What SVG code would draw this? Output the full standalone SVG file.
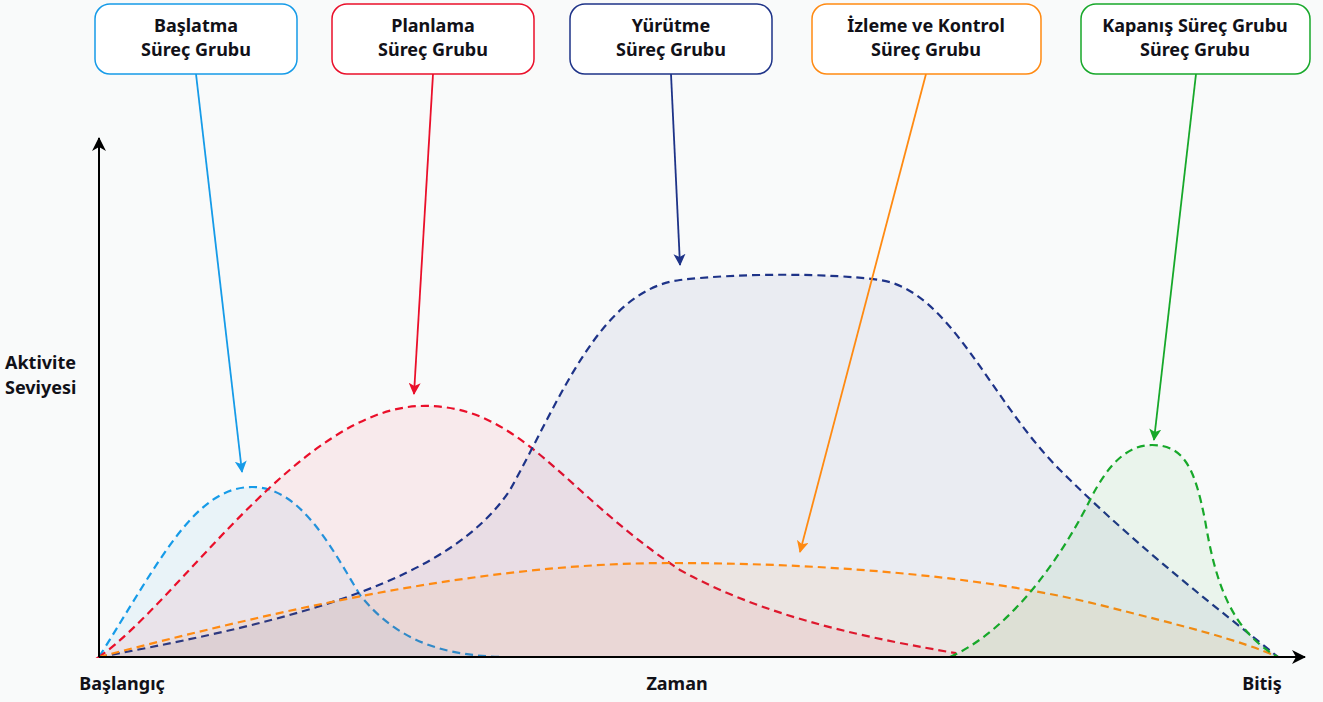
<svg xmlns="http://www.w3.org/2000/svg" width="1323" height="702" viewBox="0 0 1323 702">
<style>
text{font-family:"Noto Sans","Open Sans","Liberation Sans",sans-serif;font-weight:700;font-size:18px;fill:#111118;text-anchor:middle}
.box{fill:#ffffff;stroke-width:1.5}
.curve{fill-opacity:0.065;stroke-width:2.2;stroke-dasharray:8 5}
.lead{fill:none;stroke-width:1.8}
.axis{stroke:#000;stroke-width:2;fill:none}
</style>
<defs>
<marker id="mB" viewBox="0 0 12 12" refX="11" refY="6" markerWidth="12" markerHeight="12" markerUnits="userSpaceOnUse" orient="auto"><path d="M0,0 L12,6 L0,12 L3,6 Z" fill="#169be8"/></marker>
<marker id="mR" viewBox="0 0 12 12" refX="11" refY="6" markerWidth="12" markerHeight="12" markerUnits="userSpaceOnUse" orient="auto"><path d="M0,0 L12,6 L0,12 L3,6 Z" fill="#ea0f2a"/></marker>
<marker id="mN" viewBox="0 0 12 12" refX="11" refY="6" markerWidth="12" markerHeight="12" markerUnits="userSpaceOnUse" orient="auto"><path d="M0,0 L12,6 L0,12 L3,6 Z" fill="#1e3388"/></marker>
<marker id="mO" viewBox="0 0 12 12" refX="11" refY="6" markerWidth="12" markerHeight="12" markerUnits="userSpaceOnUse" orient="auto"><path d="M0,0 L12,6 L0,12 L3,6 Z" fill="#ff8a12"/></marker>
<marker id="mG" viewBox="0 0 12 12" refX="11" refY="6" markerWidth="12" markerHeight="12" markerUnits="userSpaceOnUse" orient="auto"><path d="M0,0 L12,6 L0,12 L3,6 Z" fill="#17a82a"/></marker>
<marker id="mK" viewBox="0 0 14 14" refX="13" refY="7" markerWidth="14" markerHeight="14" markerUnits="userSpaceOnUse" orient="auto"><path d="M0,0 L14,7 L0,14 L4,7 Z" fill="#000"/></marker>
</defs>
<rect x="0" y="0" width="1323" height="702" fill="#f9fafa"/>

<g id="curves">
<path id="c-blue" class="curve" fill="#169be8" stroke="#169be8" d="M99,657 C160,560 195,487 252,487 C300,487 330,545 360,595 C400,645 450,655 500,657 Z"/>
<path id="c-red" class="curve" fill="#ea0f2a" stroke="#ea0f2a" d="M99,657 C180,600 300,410 420,406 C520,403 560,490 680,570 C770,620 880,640 955,653 L955,657 Z"/>
<path id="c-navy" class="curve" fill="#1e3388" stroke="#1e3388" d="M99,657 C300,620 450,580 510,490 C560,400 600,290 680,280 C740,273 830,273 880,280 C950,290 990,400 1060,470 C1140,550 1220,610 1278,657 Z"/>
<path id="c-orange" class="curve" fill="#ff8a12" stroke="#ff8a12" d="M99,657 C280,610 480,563 670,563 C850,563 1000,580 1100,605 C1180,625 1240,640 1278,657 Z"/>
<path id="c-green" class="curve" fill="#17a82a" stroke="#17a82a" d="M950,657 C1010,630 1060,560 1090,500 C1110,460 1130,445 1152,445 C1185,445 1195,470 1205,520 C1215,580 1230,630 1278,657 Z"/>
</g>

<g id="axes">
<path class="axis" d="M99,657 L99,138" marker-end="url(#mK)"/>
<path class="axis" d="M99,657 L1305,657" marker-end="url(#mK)"/>
</g>

<g id="connectors">
<path class="lead" stroke="#169be8" d="M196,74 L242,472" marker-end="url(#mB)"/>
<path class="lead" stroke="#ea0f2a" d="M433,74 L414,394" marker-end="url(#mR)"/>
<path class="lead" stroke="#1e3388" d="M671,74 L680,265" marker-end="url(#mN)"/>
<path class="lead" stroke="#ff8a12" d="M926,74 L800,552" marker-end="url(#mO)"/>
<path class="lead" stroke="#17a82a" d="M1196,74 L1154,440" marker-end="url(#mG)"/>
</g>

<g id="n-baslatma">
<rect class="box" x="95" y="4" width="202" height="70" rx="15" stroke="#169be8"/>
<text x="196" y="32">Başlatma</text>
<text x="196" y="56">Süreç Grubu</text>
</g>
<g id="n-planlama">
<rect class="box" x="332" y="4" width="202" height="70" rx="15" stroke="#ea0f2a"/>
<text x="433" y="32">Planlama</text>
<text x="433" y="56">Süreç Grubu</text>
</g>
<g id="n-yurutme">
<rect class="box" x="570" y="4" width="202" height="70" rx="15" stroke="#1e3388"/>
<text x="671" y="32">Yürütme</text>
<text x="671" y="56">Süreç Grubu</text>
</g>
<g id="n-izleme">
<rect class="box" x="812" y="4" width="229" height="70" rx="15" stroke="#ff8a12"/>
<text x="926" y="32">İzleme ve Kontrol</text>
<text x="926" y="56">Süreç Grubu</text>
</g>
<g id="n-kapanis">
<rect class="box" x="1081" y="4" width="229" height="70" rx="15" stroke="#17a82a"/>
<text x="1195" y="32">Kapanış Süreç Grubu</text>
<text x="1195" y="56">Süreç Grubu</text>
</g>

<g id="labels">
<text x="5" y="369" style="text-anchor:start">Aktivite</text>
<text x="5" y="394" style="text-anchor:start">Seviyesi</text>
<text x="122" y="690">Başlangıç</text>
<text x="677" y="690">Zaman</text>
<text x="1262" y="690">Bitiş</text>
</g>
</svg>
